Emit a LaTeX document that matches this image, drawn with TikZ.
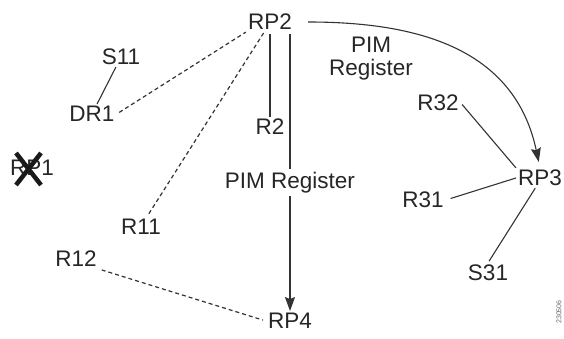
\documentclass[tikz,border=0pt]{standalone}
\usepackage{fontspec}
\setmainfont{Liberation Sans}
\usetikzlibrary{arrows.meta, calc}

\begin{document}
\begin{tikzpicture}[x=1pt, y=-1pt, >={Stealth[length=14pt, width=10pt, inset=2pt]},
    rtr/.style={text=black!85, inner sep=2pt, font=\fontsize{22.5}{23}\selectfont},
    link/.style={draw=black!80, line width=1.1pt},
    pimlink/.style={link, line width=1.2pt, dash pattern=on 4pt off 3pt}]
  \useasboundingbox (0,0) rectangle (564,339);

  % routers
  \node[rtr] (RP2) at (270,22) {RP2};
  \node[rtr] (S11) at (121,57) {S11};
  \node[rtr] (DR1) at (92,114) {DR1};
  \node[rtr] (R2) at (270,127) {R2};
  \node[rtr] (R11) at (141,227) {R11};
  \node[rtr] (R12) at (76,259) {R12};
  \node[rtr] (RP4) at (290,321) {RP4};
  \node[rtr] (RP1) at (32,168) {RP1};
  \node[rtr] (R32) at (438,103) {R32};
  \node[rtr] (RP3) at (540,178) {RP3};
  \node[rtr] (R31) at (423,200) {R31};
  \node[rtr] (S31) at (488,273) {S31};

  % failed RP
  \draw[line width=4.5pt, black!90] (16,153) -- (41,185) (41,153) -- (16,185);

  \draw[link] (S11) -- (DR1);
  \draw[pimlink, shorten <=3pt] (DR1.east) -- (RP2.south west);
  \draw[pimlink, shorten <=4pt] (R11.60) -- (RP2.-120);
  \draw[pimlink, shorten <=3pt, shorten >=3pt] (R12.south east) -- (RP4.west);
  \draw[link, shorten <=2pt] (RP2.south) -- (R2.north);
  \draw[link, ->, shorten <=2pt] (RP2.south -| RP4.north) -- (RP4.north)
    node[rtr, fill=white, pos=0.54, inner sep=3pt] {PIM Register};
  \draw[link, ->, shorten <=14pt, shorten >=6pt] (RP2.east) to[out=0, in=102, looseness=1.1] (RP3.north);
  \node[rtr, align=center] (pim) at (371,59) {PIM\\Register};

  \draw[link, shorten <=2pt] (R32.east) -- (RP3.north west);
  \draw[link, shorten <=5pt] (R31.east) -- (RP3.west);
  \draw[link, shorten >=2pt] (RP3.-115) -- (S31.north);

  \node[rotate=90, font=\fontsize{7}{8}\selectfont, text=black!60] (fig) at (559,312) {230506};
\end{tikzpicture}
\end{document}
